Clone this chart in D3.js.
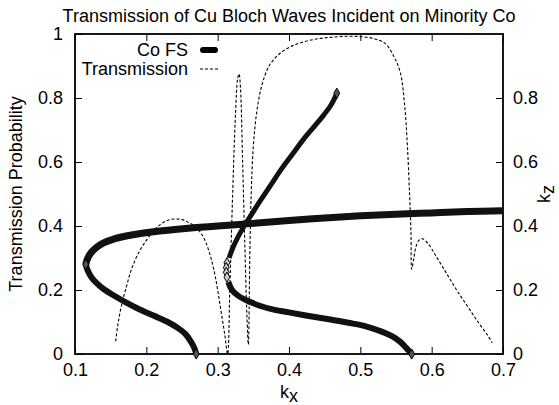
<!DOCTYPE html>
<html>
<head>
<meta charset="utf-8">
<script src="https://cdn.jsdelivr.net/npm/d3@7"></script>
<style>
  body { margin: 0; background: #fff; }
  text { font-family: "Liberation Sans", Arial, sans-serif; fill: #000; }
</style>
</head>
<body>
<div class="canvas"></div>
<script>
// tick values
const kxTicks = [0.1, 0.2, 0.3, 0.4, 0.5, 0.6, 0.7];
const probTicks = [0, 0.2, 0.4, 0.6, 0.8, 1];
const kzTicks = [0, 0.2, 0.4, 0.6, 0.8];

// Co Fermi surface branches [kx, kz]
const fsUpper = [[0.115,0.28],[0.118,0.30],[0.123,0.318],[0.13,0.333],[0.14,0.347],[0.155,0.36],[0.17,0.368],[0.19,0.376],[0.21,0.382],[0.24,0.389],[0.27,0.395],[0.3,0.40],[0.33,0.405],[0.36,0.41],[0.4,0.417],[0.45,0.425],[0.5,0.432],[0.55,0.437],[0.6,0.441],[0.65,0.445],[0.7,0.448]];
const fsLowerLeft = [[0.115,0.28],[0.118,0.26],[0.123,0.24],[0.13,0.222],[0.14,0.203],[0.155,0.182],[0.17,0.163],[0.19,0.14],[0.21,0.12],[0.23,0.1],[0.245,0.08],[0.255,0.062],[0.262,0.04],[0.267,0.02],[0.27,0]];
const fsRising = [[0.316,0.3],[0.32,0.325],[0.325,0.35],[0.332,0.38],[0.34,0.41],[0.35,0.445],[0.36,0.48],[0.375,0.53],[0.39,0.58],[0.405,0.625],[0.42,0.67],[0.435,0.71],[0.448,0.745],[0.458,0.775],[0.463,0.795],[0.467,0.815]];
const fsLowerRight = [[0.315,0.225],[0.32,0.2],[0.33,0.18],[0.345,0.163],[0.36,0.15],[0.38,0.138],[0.4,0.13],[0.43,0.118],[0.46,0.107],[0.49,0.095],[0.51,0.085],[0.53,0.07],[0.545,0.055],[0.556,0.038],[0.564,0.02],[0.57,0.005],[0.572,0]];
const fsSparse = [[0.313,0.285],[0.312,0.27],[0.312,0.255],[0.313,0.24]];

// transmission probability vs kx
const transmission = [[0.157,0.04],[0.16,0.09],[0.165,0.15],[0.172,0.21],[0.18,0.27],[0.19,0.32],[0.2,0.355],[0.21,0.385],[0.22,0.405],[0.23,0.418],[0.24,0.422],[0.25,0.42],[0.26,0.41],[0.27,0.395],[0.28,0.365],[0.288,0.32],[0.295,0.26],[0.3,0.2],[0.305,0.13],[0.31,0.06],[0.314,0.0],
  [0.317,0.2],[0.321,0.5],[0.325,0.75],[0.328,0.86],[0.33,0.875],[0.332,0.83],[0.335,0.6],[0.338,0.35],[0.341,0.12],[0.343,0.03],
  [0.345,0.3],[0.347,0.5],[0.35,0.65],[0.355,0.76],[0.362,0.84],[0.372,0.9],[0.385,0.935],[0.4,0.958],[0.42,0.975],[0.44,0.985],[0.46,0.99],[0.48,0.993],[0.5,0.992],[0.52,0.985],[0.535,0.97],[0.547,0.93],[0.556,0.88],[0.562,0.78],[0.566,0.65],[0.569,0.5],[0.571,0.38],[0.572,0.265],
  [0.575,0.30],[0.578,0.335],[0.582,0.355],[0.587,0.36],[0.595,0.345],[0.605,0.31],[0.62,0.255],[0.635,0.2],[0.65,0.15],[0.665,0.1],[0.678,0.06],[0.685,0.035]];

const width = 559, height = 405;
const margin = { top: 34, right: 56, bottom: 51, left: 75 };
const graphWidth = width - margin.left - margin.right;
const graphHeight = height - margin.top - margin.bottom;
const fontSize = 18;

const svg = d3.select('.canvas')
  .append('svg')
    .attr('width', width)
    .attr('height', height);

const graph = svg.append('g')
  .attr('transform', `translate(${margin.left}, ${margin.top})`);

const x = d3.scaleLinear().domain([0.1, 0.7]).range([0, graphWidth]);
const y = d3.scaleLinear().domain([0, 1]).range([graphHeight, 0]);

// axes, ticks pointing inward
const fmt = d => d === 0 ? '0' : d === 1 ? '1' : d3.format('.1f')(d);
const tick = 7;

const xBottom = graph.append('g').attr('transform', `translate(0, ${graphHeight})`)
  .call(d3.axisBottom(x).tickValues(kxTicks).tickFormat(fmt).tickSizeInner(-tick).tickSizeOuter(0).tickPadding(9));
const xTop = graph.append('g')
  .call(d3.axisTop(x).tickValues(kxTicks).tickFormat('').tickSizeInner(-tick).tickSizeOuter(0));
const yLeft = graph.append('g')
  .call(d3.axisLeft(y).tickValues(probTicks).tickFormat(fmt).tickSizeInner(-tick).tickSizeOuter(0).tickPadding(12));
const yRight = graph.append('g').attr('transform', `translate(${graphWidth}, 0)`)
  .call(d3.axisRight(y).tickValues(kzTicks).tickFormat(fmt).tickSizeInner(-tick).tickSizeOuter(0).tickPadding(10));

[xBottom, xTop, yLeft, yRight].forEach(g => {
  g.select('.domain').remove();
  g.selectAll('line').attr('stroke', '#000').attr('stroke-width', 1);
  g.selectAll('text').attr('font-size', fontSize).attr('font-family', '"Liberation Sans", Arial, sans-serif');
});

graph.append('rect')
  .attr('width', graphWidth)
  .attr('height', graphHeight)
  .attr('fill', 'none')
  .attr('stroke', '#000')
  .attr('stroke-width', 1.8);

const line = d3.line()
  .x(d => x(d[0]))
  .y(d => y(d[1]))
  .curve(d3.curveCatmullRom.alpha(0.5));

// transmission (dashed)
graph.append('path')
  .attr('d', line(transmission))
  .attr('fill', 'none')
  .attr('stroke', '#000')
  .attr('stroke-width', 1.1)
  .attr('stroke-dasharray', '3,2');

// Co FS branches drawn as dense diamonds -> thick line
const branches = [
  { pts: fsUpper, w: 7 },
  { pts: fsLowerLeft, w: 6 },
  { pts: fsRising, w: 5 },
  { pts: fsLowerRight, w: 6 }
];
branches.forEach(b => {
  graph.append('path')
    .attr('d', line(b.pts))
    .attr('fill', 'none')
    .attr('stroke', '#111')
    .attr('stroke-width', b.w);
});

const diamond = d3.symbol().type(d3.symbolDiamond).size(30);
graph.selectAll('.sparse')
  .data(fsSparse)
  .enter().append('path')
    .attr('class', 'sparse')
    .attr('d', diamond)
    .attr('transform', d => `translate(${x(d[0])}, ${y(d[1])})`)
    .attr('fill', '#ccc')
    .attr('stroke', '#000')
    .attr('stroke-width', 1);

// end markers
const ends = [fsUpper[0], fsLowerLeft[fsLowerLeft.length - 1], fsRising[fsRising.length - 1], fsLowerRight[fsLowerRight.length - 1]];
graph.selectAll('.end')
  .data(ends)
  .enter().append('path')
    .attr('class', 'end')
    .attr('d', diamond)
    .attr('transform', d => `translate(${x(d[0])}, ${y(d[1])})`)
    .attr('fill', '#555')
    .attr('stroke', '#000');

// title
svg.append('text')
  .attr('x', 289)
  .attr('y', 22)
  .attr('text-anchor', 'middle')
  .attr('font-size', fontSize)
  .text('Transmission of Cu Bloch Waves Incident on Minority Co');

// axis labels
const kxLabel = svg.append('text')
  .attr('x', margin.left + graphWidth / 2)
  .attr('y', 398)
  .attr('text-anchor', 'middle')
  .attr('font-size', fontSize);
kxLabel.append('tspan').text('k');
kxLabel.append('tspan').attr('dy', 4).text('x');

svg.append('text')
  .attr('transform', `translate(22, ${margin.top + graphHeight / 2}) rotate(-90)`)
  .attr('text-anchor', 'middle')
  .attr('font-size', fontSize)
  .text('Transmission Probability');

const kzLabel = svg.append('text')
  .attr('transform', `translate(550, ${margin.top + graphHeight / 2}) rotate(-90)`)
  .attr('text-anchor', 'middle')
  .attr('font-size', fontSize);
kzLabel.append('tspan').text('k');
kzLabel.append('tspan').attr('dy', 4).text('z');

// legend
const legend = svg.append('g');
legend.append('text')
  .attr('x', 188).attr('y', 50).attr('dy', '0.35em')
  .attr('text-anchor', 'end').attr('font-size', fontSize)
  .text('Co FS');
legend.append('line')
  .attr('x1', 203).attr('x2', 215).attr('y1', 50).attr('y2', 50)
  .attr('stroke', '#000').attr('stroke-width', 6).attr('stroke-linecap', 'round');
legend.append('text')
  .attr('x', 188).attr('y', 69).attr('dy', '0.35em')
  .attr('text-anchor', 'end').attr('font-size', fontSize)
  .text('Transmission');
legend.append('line')
  .attr('x1', 200).attr('x2', 218).attr('y1', 69).attr('y2', 69)
  .attr('stroke', '#000').attr('stroke-width', 1.1).attr('stroke-dasharray', '3,2');
</script>
</body>
</html>
